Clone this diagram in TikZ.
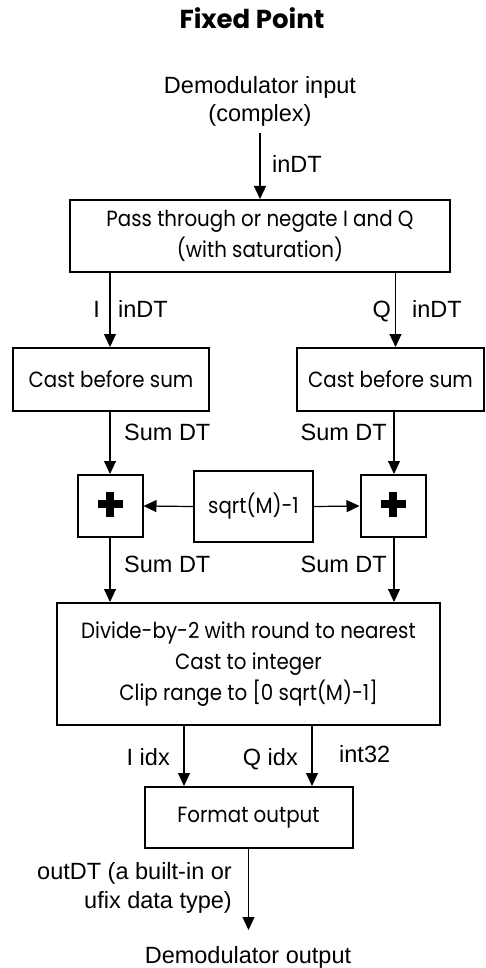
\documentclass[tikz,border=0pt]{standalone}
\usepackage{fontspec}
\setmainfont{Liberation Sans}
\newfontfamily\boxfont[FakeStretch=0.9]{Poppins}
\newfontfamily\titlefont{Poppins}
\usetikzlibrary{arrows.meta}
\begin{document}
\begin{tikzpicture}[x=1pt,y=-1pt,
  blk/.style={draw,line width=2pt,inner sep=0pt,align=center,
    font=\boxfont\fontsize{22}{31}\selectfont},
  lab/.style={inner sep=0pt,font=\fontsize{23.5}{28}\selectfont},
  arr/.style={line width=1.2pt,-{Triangle[length=13pt,width=12pt]}},
  plus/.style={line width=8pt}]
\useasboundingbox (0,0) rectangle (485,968);
% title
\node[inner sep=0pt,anchor=base,font=\titlefont\bfseries\fontsize{26}{30}\selectfont] (title) at (252,29) {Fixed Point};
% input
\node[lab,anchor=base] (inl1) at (260,94) {Demodulator input};
\node[lab,anchor=base] (inl2) at (260,122) {(complex)};
\coordinate (in) at (260,133);
% blocks
\node[blk,minimum width=380pt,minimum height=72pt] (pass) at (260,236) {Pass through or negate I and Q\\(with saturation)};
\node[blk,minimum width=196pt,minimum height=63pt] (castL) at (111,379.5) {Cast before sum};
\node[blk,minimum width=187pt,minimum height=63pt] (castR) at (390.5,379.5) {Cast before sum};
\node[blk,minimum width=65pt,minimum height=62pt] (sumL) at (110,506) {};
\node[blk,minimum width=65pt,minimum height=62pt] (sumR) at (393,506) {};
\node[blk,minimum width=119pt,minimum height=71pt] (sq) at (253.5,506.5) {sqrt(M)-1};
\node[blk,minimum width=383pt,minimum height=122pt] (div) at (248.5,664) {Divide-by-2 with round to nearest\\Cast to integer\\Clip range to [0 sqrt(M)-1]};
\node[blk,minimum width=208pt,minimum height=61pt] (fmt) at (248.5,817.5) {Format output};
\coordinate (out) at (248.5,930);
\node[lab,anchor=base] (outl) at (248,963) {Demodulator output};
% plus signs
\draw[plus] ([xshift=-12.5pt,yshift=2pt]sumL.center) -- ([xshift=12.5pt,yshift=2pt]sumL.center);
\draw[plus] ([yshift=14.5pt]sumL.center) -- ([yshift=-10.5pt]sumL.center);
\draw[plus] ([xshift=-12.5pt,yshift=2pt]sumR.center) -- ([xshift=12.5pt,yshift=2pt]sumR.center);
\draw[plus] ([yshift=14.5pt]sumR.center) -- ([yshift=-10.5pt]sumR.center);
% column coordinates
\coordinate (colL) at (110,0);
\coordinate (colRt) at (395.5,0);
\coordinate (colR) at (394,0);
\coordinate (colI) at (184,0);
\coordinate (colQ) at (312,0);
% connectors
\draw[arr] (in) -- (pass.north);
\draw[arr] (pass.south -| colL) -- (castL.north -| colL);
\draw[arr] (pass.south -| colRt) -- (castR.north -| colRt);
\draw[arr] (castL.south -| colL) -- (sumL.north -| colL);
\draw[arr] (castR.south -| colR) -- (sumR.north -| colR);
\draw[arr] (sq.west) -- (sumL.east);
\draw[arr] (sq.east) -- (sumR.west);
\draw[arr] (sumL.south -| colL) -- (div.north -| colL);
\draw[arr] (sumR.south -| colR) -- (div.north -| colR);
\draw[arr] (div.south -| colI) -- (fmt.north -| colI);
\draw[arr] (div.south -| colQ) -- (fmt.north -| colQ);
\draw[arr] (fmt.south) -- (out);
% labels
\node[lab,anchor=base west] (l1) at (272,173) {inDT};
\node[lab,anchor=base east] (l2) at (100,317) {I};
\node[lab,anchor=base west] (l3) at (118,317) {inDT};
\node[lab,anchor=base east] (l4) at (391,317) {Q};
\node[lab,anchor=base west] (l5) at (412,317) {inDT};
\node[lab,anchor=base west] (l6) at (124,440) {Sum DT};
\node[lab,anchor=base east] (l7) at (387,440) {Sum DT};
\node[lab,anchor=base west] (l8) at (124,572) {Sum DT};
\node[lab,anchor=base east] (l9) at (387,572) {Sum DT};
\node[lab,anchor=base east] (l10) at (170,765) {I idx};
\node[lab,anchor=base east] (l11) at (298,765) {Q idx};
\node[lab,anchor=base west] (l12) at (339,762) {int32};
\node[lab,anchor=base east] (l13) at (232,879) {outDT (a built-in or};
\node[lab,anchor=base east] (l14) at (232,908) {ufix data type)};
\end{tikzpicture}
\end{document}
